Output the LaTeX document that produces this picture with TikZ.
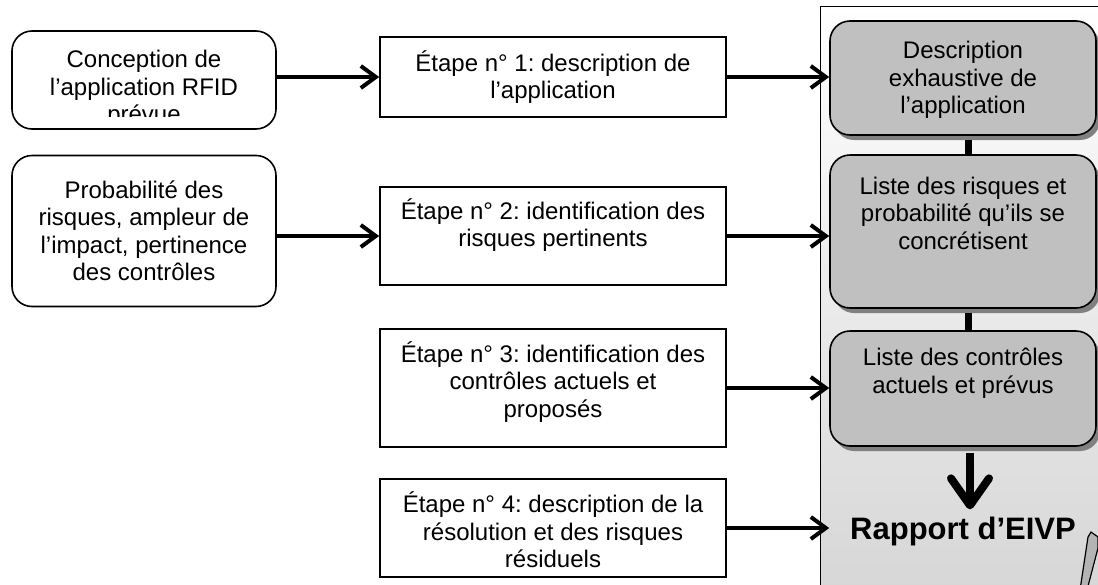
\documentclass[tikz,border=0pt]{standalone}
\usepackage{fontspec}
\setmainfont{Liberation Sans}
\usetikzlibrary{arrows.meta,shadows}
\definecolor{boxgray}{HTML}{C0C0C0}
\definecolor{shadowgray}{HTML}{808080}
\definecolor{panelgray}{HTML}{D4D4D4}
\definecolor{curlgray}{HTML}{B4B4B4}
\frenchspacing

\begin{document}
\begin{tikzpicture}[x=1pt,y=-1pt,font=\fontsize{24}{27.5}\selectfont]
	\tikzstyle{source}=[draw,line width=1.6pt,rounded corners=20pt,minimum width=264pt,inner sep=0pt]
	\tikzstyle{etape}=[draw,line width=1.6pt,minimum width=346pt,inner sep=0pt]
	\tikzstyle{result}=[draw,line width=1.6pt,fill=boxgray,rounded corners=20pt,minimum width=266pt,inner sep=0pt,drop shadow={shadow xshift=4pt,shadow yshift=-5pt,fill=shadowgray,opacity=1}]
	\tikzstyle{txt}=[align=center,inner sep=0pt]
	\tikzstyle{flow}=[-{Straight Barb[length=15pt,width=22pt]},line width=4pt]
	\tikzstyle{bigflow}=[-{Straight Barb[length=27pt,width=38pt,round]},line width=8pt]
	\tikzstyle{link}=[line width=7pt]

	\useasboundingbox (0,0) rectangle (1098,584);
	\clip (0,0) rectangle (1098,584);

	% panel of the report
	\node[draw,line width=1.2pt,top color=white,bottom color=panelgray,minimum width=320pt,minimum height=620pt,anchor=north west](panel) at (820,6){};

	% inputs on the left
	\node[source,minimum height=98pt](concept) at (144,80){};
	\begin{scope}
		\clip (14,33) rectangle (274,116);
		\node[txt](concepttxt) at (144,89){Conception de\\l’application RFID\\prévue};
	\end{scope}
	\node[source,minimum height=151pt,align=center](proba) at (144,231){Probabilité des\\risques, ampleur de\\l’impact, pertinence\\des contrôles};

	% the four steps
	\node[etape,minimum height=80pt,align=center](etape1) at (553,77){Étape n° 1: description de\\l’application};
	\node[etape,minimum height=98pt](etape2) at (553,236){};
	\node[txt](etape2txt) at (553,225){Étape n° 2: identification des\\risques pertinents};
	\node[etape,minimum height=118pt](etape3) at (553,388){};
	\node[txt](etape3txt) at (553,382){Étape n° 3: identification des\\contrôles actuels et\\proposés};
	\node[etape,minimum height=98pt](etape4) at (553,528){};
	\node[txt](etape4txt) at (553,530){Étape n° 4: description de la\\résolution et des risques\\résiduels};

	% results in the report
	\node[result,minimum height=114pt](descr) at (963,78){};
	\node[txt](descrtxt) at (963,80){Description\\exhaustive de\\l’application};
	\node[result,minimum height=153pt](risques) at (963,231.5){};
	\node[txt](risquestxt) at (963,213){Liste des risques et\\probabilité qu’ils se\\concrétisent};
	\node[result,minimum height=115pt](controles) at (963,388.5){};
	\node[txt](controlestxt) at (963,373){Liste des contrôles\\actuels et prévus};
	\node[inner sep=7pt,font=\fontsize{31}{36}\selectfont\bfseries](rapport) at (963,531){Rapport d’EIVP};

	\draw[flow] (etape1.west -| concept.east) -- (etape1.west);
	\draw[flow] (etape2.west -| proba.east) -- (etape2.west);

	\draw[flow] (etape1.east) -- (etape1.east -| descr.west);
	\draw[flow] (etape2.east) -- (etape2.east -| risques.west);
	\draw[flow] (etape3.east) -- (etape3.east -| controles.west);
	\draw[flow] (etape4.east) -- (etape4.east -| controles.west);

	\draw[link] ([xshift=5pt,yshift=-4pt]descr.south) -- ([xshift=5pt]risques.north);
	\draw[link] ([xshift=5pt,yshift=-4pt]risques.south) -- ([xshift=5pt]controles.north);
	\draw[bigflow] ([xshift=7pt,yshift=-6pt]controles.south) -- ([xshift=7pt]rapport.north);

	% page curl
	\filldraw[fill=curlgray,line width=1.2pt] (1088,537) -- (1091,532) -- (1098,537) -- (1098,548) -- (1087,590) -- (1080,590) -- cycle;

\end{tikzpicture}
\end{document}
